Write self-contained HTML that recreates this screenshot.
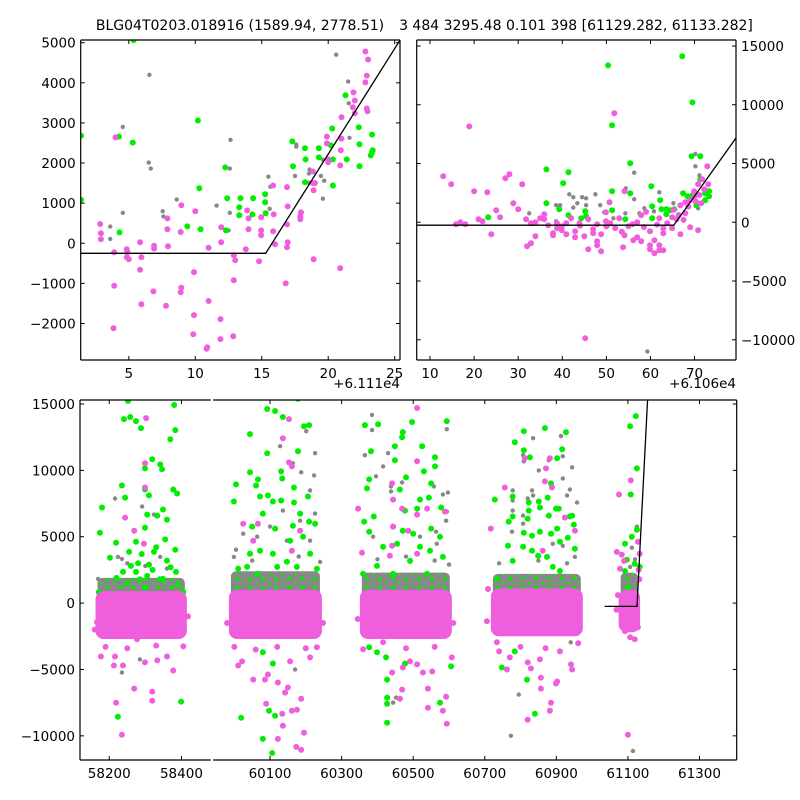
<!DOCTYPE html>
<html><head><meta charset="utf-8"><style>
html,body{margin:0;padding:0;background:#fff}
svg{display:block;font-family:"DejaVu Sans","Liberation Sans",sans-serif}
</style></head><body>
<svg id="fig" width="800" height="800" viewBox="0 0 800 800" xmlns="http://www.w3.org/2000/svg">
<defs>
<pattern id="gg" width="13" height="9" patternUnits="userSpaceOnUse">
<rect width="13" height="9" fill="#888"/>
<circle cx="3" cy="2.5" r="1.9" fill="#00ee00"/>
<circle cx="9.5" cy="7" r="1.3" fill="#22dd22"/>
</pattern>
</defs>
<rect width="800" height="800" fill="#fff"/>
<text x="240" y="30" font-size="14" text-anchor="middle">BLG04T0203.018916 (1589.94, 2778.51)</text>
<text x="576" y="30" font-size="14" text-anchor="middle">3 484 3295.48 0.101 398 [61129.282, 61133.282]</text>
<text x="400" y="388" font-size="13.5" text-anchor="end">+6.111e4</text>
<text x="736" y="388" font-size="13.5" text-anchor="end">+6.106e4</text>
</svg>
<script>
// ---------- DATA ----------
const modelT=[61035,61125.3,61160];
const modelF=[-250,-250,18000];

const tlPink=[[2.85,480],[2.9,250],[2.9,100],[3.9,-225],[3.9,-1060],[3.85,-2120],[4.0,2640],[4.85,-150],[4.9,-225],[4.85,-350],[5,-400],[5.85,25],[5.95,-350],[5.85,-660],[5.95,-1520],[6.9,-60],[6.9,-130],[6.85,-1200],[7.8,-1560],[7.9,620],[7.9,350],[7.95,-75],[8.95,950],[8.9,280],[8.95,-1110],[8.9,-1220],[10,800],[9.9,-720],[9.9,-1790],[9.85,-2270],[11,-110],[11,-1440],[10.85,-2630],[10.9,-2590],[11.95,400],[11.95,25],[11.9,-1890],[11.9,-2390],[12.9,-300],[13,-420],[12.9,-920],[12.85,-2320],[13.9,820],[14,620],[14,350],[13.8,-150],[14.95,650],[14.95,320],[14.95,200],[14.8,-450],[15.85,1440],[15.9,720],[15.85,300],[16,-25],[16.9,1400],[16.95,920],[16.9,470],[16.95,25],[16.9,-100],[16.8,-1000],[17.95,770],[17.9,670],[17.9,600],[18.85,1790],[18.85,1500],[19,1500],[18.9,1320],[18.9,-400],[19.9,2660],[19.9,2490],[20,2090],[20,2020],[21,3140],[21,2610],[20.95,2320],[20.9,1940],[20.9,-620],[21.9,3760],[22,3560],[21.85,3390],[22,3240],[22.8,4780],[23,4580],[22.9,4180],[22.8,4010],[22.9,3360],[22.95,3290]];
const tlGreen=[[5.35,5060],[1.4,2680],[1.4,1080],[4.25,2660],[5.3,2510],[4.3,270],[9.4,420],[10.2,3060],[10.3,1370],[10.4,350],[12.25,1890],[12.4,1120],[12.3,320],[13.4,1120],[13.3,900],[13.3,700],[14.35,1120],[14.3,720],[15.25,1220],[15.25,1020],[15.3,750],[17.3,2540],[17.35,1920],[18.25,2370],[18.3,2090],[18.25,1520],[19.3,2370],[19.3,2140],[20.3,2860],[20.2,2440],[20.35,2090],[20.35,1440],[21.3,3690],[21.4,2090],[22.3,2890],[22.35,2470],[22.35,1920],[23.3,2710],[23.35,2320],[23.3,2270],[23.2,2190]];
const tlGray=[[3.6,415],[3.6,110],[4.55,2900],[4.55,760],[6.55,4200],[6.5,2010],[6.65,1860],[7.55,800],[7.6,670],[8.6,1090],[11.6,940],[12.65,2580],[12.6,1860],[12.6,760],[12.5,320],[15.5,1660],[15.65,1410],[15.6,860],[17.6,2460],[17.6,2410],[17.5,1680],[18.6,1840],[18.55,1740],[18.55,1510],[19.6,2080],[19.45,1680],[19.7,1560],[19.6,1110],[20.6,4700],[21.5,4030],[21.55,3490],[21.6,2630]];

const trPink=[[13,3910],[14.8,3230],[18.9,8160],[15.9,-170],[16.9,0],[18,-170],[20,2640],[21,255],[21.9,85],[23,2550],[23.9,-1020],[25,1020],[25.9,425],[27.1,3740],[28,4080],[28.9,1620],[30,1100],[30.9,3230],[31.8,255],[32,-2040],[32.9,-1790],[32.9,-85],[33.9,0],[33.9,-1190],[35,340],[35.9,680],[35.9,255],[36.8,-255],[37.9,-935],[37.9,-1100],[38.8,-510],[38.8,-85],[39.9,-680],[39.9,-340],[40.9,-1020],[40.9,-85],[42,340],[42.9,-1275],[42.9,-765],[43.9,-85],[45,-1190],[45.9,255],[45.9,-2300],[47,-600],[47,-935],[47.9,-170],[47.9,-1620],[47.9,-1960],[48.8,-2470],[48.8,-1020],[49.9,850],[49.9,85],[50.9,-85],[50.7,1700],[51.8,9270],[52.9,340],[53.8,-2130],[54.1,2640],[54.1,-1100],[55,-340],[55.9,-170],[56.1,-1530],[57,0],[57,-1275],[57.9,-1620],[57.9,595],[59,880],[59.9,-2300],[59.9,-1960],[59.9,-765],[60.9,-2640],[60.9,-1530],[62,-2380],[62,-1960],[62,340],[62.9,-935],[62.9,-510],[62.9,-2380],[63.8,-85],[64.9,-510],[64.9,425],[65.9,255],[66.8,1450],[66.8,-1020],[67.9,765],[67.9,1700],[69,1870],[69,-425],[69.9,2640],[69.9,2130],[70.8,-680],[70.8,3230],[71.7,3660],[72.2,2800],[72.9,4760],[73.1,3230],[71.5,1620],[71.1,2320],[45.2,-9870],[67.5,200],[66.4,620],[65.2,1050],[68.6,1330],[70.3,1760],[44,-300],[52,-500],[58.5,-400],[61.5,-200],[53.5,-800],[50,-350]];
const trGreen=[[23.2,425],[36.4,4500],[36.4,1620],[39.3,1100],[40.2,3320],[41.4,4250],[41.4,595],[44.3,340],[45.2,935],[45.4,510],[50.4,13350],[51.3,8250],[51.3,2640],[51.3,1020],[54.3,255],[55.4,5020],[55.4,2470],[60.2,3060],[60.4,1360],[60.4,340],[62.2,1870],[62.5,1100],[63.6,1100],[63.6,680],[64.5,1020],[65.4,1100],[67.2,14120],[67.4,2470],[68.4,2210],[69.3,5610],[69.5,10200],[69.5,2300],[70.4,1450],[71.3,5610],[71.3,3660],[72.2,2800],[72.4,1870],[72.4,2470],[73.3,2640],[73.3,2210]];
const trGray=[[32.5,765],[38.6,1450],[39.5,1450],[38.6,85],[41.6,2380],[42.5,2130],[42.5,1250],[43.4,1620],[44.5,2130],[45.4,2040],[45.4,1450],[47.5,2380],[48.6,1450],[49.5,850],[51.6,340],[54.4,2890],[54.3,765],[56.3,4220],[56.3,1960],[57.5,765],[58.6,1190],[59.3,-11000],[60.8,935],[62,2550],[62,1870],[65.2,1620],[67.4,2470],[70.2,5810],[70.2,4760],[71.1,4000],[70.8,1190]];

// bottom cluster core bands
const coreStart=[58162,59985,60351,60717,61074];
const coreEnd=[58415,60245,60608,60974,61134];
const pinkLo=[-2700,-2700,-2700,-2500,-2200];
const pinkHi=[900,1000,1000,1100,1000];
const grayLo=[0,0,0,0,200];
const grayHi=[1900,2400,2300,2200,2300];

const btGreen=[[58252,15230],[58241,13860],[58258,14020],[58274,13710],[58288,13180],[58180,7200],[58174,5300],[58235,8860],[58244,7950],[58219,4550],[58202,3410],[58319,10830],[58341,10450],[58346,10080],[58299,10150],[58299,8560],[58310,8110],[58305,6670],[58299,5680],[58333,6590],[58349,7050],[58380,14920],[58383,13030],[58369,12350],[58377,8560],[58388,8260],[58383,4020],[58360,6290],[58324,3860],[58274,4620],[58255,3860],[58399,-7420],[58224,-8560],[58305,2050],[58274,2350],[58238,2350],[58171,830],[58405,830],[58385,2350],[58349,1820],[58280,3000],[58320,2500],[58360,3200],[58250,1500],[58300,1200],[58340,1800],[58390,1400],[58220,1900],[58260,2800],[58330,4200],[58290,3700],[58370,2700],[58310,2900],[58355,4800],[58285,1800],
[60092,14620],[60114,14470],[60136,14020],[60044,12730],[60178,15380],[60195,13330],[60209,13410],[60092,11290],[60178,11440],[60044,9850],[60131,9920],[60005,8940],[59999,7650],[60066,9320],[60061,8860],[60134,9390],[60167,8710],[60072,8030],[60108,7650],[60131,7730],[60094,8110],[60206,8030],[60167,7580],[60209,6140],[60226,5980],[60050,5760],[60080,6740],[60114,5610],[60156,4700],[60192,5000],[60044,3710],[60072,3940],[60108,3710],[60212,3710],[60011,2580],[60231,2580],[60019,-8640],[60097,-8110],[60114,-8480],[60080,-10230],[60106,-11290],[60108,-4550],[60080,-3710],[60036,2730],[60120,2730],[60175,2730],[60147,3110],[60064,2200],[60184,6740],[60164,5830],
[60365,13410],[60402,13480],[60382,11440],[60497,13640],[60471,12880],[60469,12500],[60449,11820],[60525,11820],[60561,10980],[60594,13710],[60449,10760],[60530,9920],[60561,10300],[60377,9320],[60480,9470],[60371,8640],[60463,8560],[60550,9020],[60519,7800],[60544,7950],[60477,6970],[60511,7120],[60578,7200],[60363,6140],[60390,6520],[60377,5380],[60444,5760],[60471,5450],[60500,5230],[60550,5610],[60575,5000],[60416,4240],[60455,4470],[60519,4240],[60547,3940],[60583,3480],[60399,2800],[60491,3180],[60424,-4090],[60427,-5760],[60427,-7120],[60427,-7580],[60427,-9010],[60575,-7500],[60606,-4770],[60377,-3330],[60399,-3710],[60477,-4550],[60360,2200],[60444,2200],[60539,2200],
[60809,12950],[60868,13180],[60927,12880],[60784,12120],[60809,11520],[60826,10980],[60902,10910],[60916,11590],[60885,9020],[60728,7800],[60778,8030],[60876,7950],[60823,7580],[60851,7650],[60854,7200],[60823,6970],[60899,7120],[60907,7120],[60778,6520],[60767,6140],[60820,6360],[60879,6590],[60938,6520],[60944,6590],[60949,5910],[60809,5300],[60832,5080],[60854,5380],[60885,5230],[60902,5610],[60932,4920],[60910,4620],[60765,4320],[60807,4240],[60832,3940],[60849,3560],[60874,3480],[60952,4090],[60778,3180],[60734,1820],[60890,2730],[60910,2420],[60748,-4850],[60784,-3640],[60818,-5760],[60840,-8330],
[61122,14090],[61106,13330],[61125,10150],[61108,8180],[61125,5530],[61111,5000],[61092,4470],[61097,3260],[61119,2950],[61133,2730],[61092,2420],[61100,1210]];
const btPink=[[58302,13940],[58299,10530],[58299,8710],[58244,6440],[58269,5450],[58296,4470],[58177,-4020],[58216,-4020],[58213,-4700],[58238,-4700],[58269,-6440],[58319,-6670],[58319,-7350],[58219,-7500],[58235,-9920],[58377,-5080],[58299,-4470],[58333,-4320],[58360,-4020],[58405,-3260],[58277,-2730],[58166,-1440],[58190,-3300],[58250,-3400],[58330,-3200],[58395,-2400],[58160,-2000],[58418,-1000],
[60153,13860],[60136,12420],[60153,10600],[60161,10300],[60022,-4390],[60011,-4700],[60053,-5760],[60086,-5760],[60094,-5380],[60122,-5980],[60150,-6360],[60142,-6740],[60089,-7580],[60134,-8330],[60136,-9240],[60161,-8110],[60175,-8030],[60187,-7200],[60122,-10230],[60195,-9770],[60173,-10830],[60187,-11060],[60025,5980],[60066,5980],[60053,4700],[60184,5450],[60161,3940],[60231,-3330],[60212,-4090],[60156,-4390],[59980,-1500],[60000,-3300],[60060,-3500],[60120,-3300],[60200,-3400],[60248,-1500],
[60511,14700],[60511,10680],[60441,9020],[60444,7800],[60469,7120],[60346,7120],[60539,7120],[60589,6890],[60511,6670],[60444,5760],[60486,5450],[60357,3790],[60435,3560],[60441,4320],[60511,3710],[60491,-4390],[60471,-4850],[60511,-4620],[60441,-5230],[60469,-6520],[60463,-7200],[60541,-7880],[60541,-6440],[60583,-8110],[60594,-9090],[60592,-7050],[60553,-5150],[60527,-5230],[60608,-4090],[60360,-3480],[60416,-2950],[60345,-1200],[60612,-1500],[60480,-3400],[60560,-3300],
[60756,8710],[60717,5610],[60812,10910],[60882,10910],[60871,10150],[60868,9170],[60888,8710],[60924,6440],[60952,5450],[60862,3940],[60709,1060],[60706,-1360],[60734,-2950],[60740,-3640],[60770,-4090],[60762,-5000],[60820,-4470],[60829,-4920],[60854,-4240],[60857,-5610],[60857,-6440],[60899,-6060],[60902,-5910],[60885,-7500],[60882,-8110],[60820,-8790],[60944,-5000],[60941,-4620],[60961,-3030],[60910,-3640],[60800,-3300],[60870,-3400],[60960,-2000],
[61108,9240],[61075,8180],[61069,3860],[61083,3640],[61089,3180],[61078,2580],[61128,4620],[61133,3710],[61100,-9920],[61086,-1820],[61092,-2120],[61106,-2580],[61119,-2730],[61083,-1060],[61128,-1820],[61068,-500],[61072,600],[61130,2500],[61132,1800]];
const btGray=[[58216,7880],[58291,7270],[58324,6670],[58235,3330],[58224,3480],[58169,1820],[58235,-5230],[58285,-4240],[58341,3480],[58388,1290],[58250,3000],[58300,2800],[58360,2600],
[60128,11820],[60201,12950],[60226,11290],[60223,9620],[60187,9850],[60212,8490],[60164,10530],[60226,6740],[60005,4020],[59999,3480],[60025,5230],[60064,5000],[60170,-5000],[60184,6210],[60136,6970],[60100,5760],[60147,4700],[60212,4700],[60025,2050],[60212,2200],[60050,3200],[60180,3500],[60240,3100],
[60385,14170],[60385,13030],[60365,11140],[60430,11290],[60416,10300],[60396,9550],[60438,8790],[60438,8410],[60469,9090],[60594,13100],[60594,6890],[60592,6210],[60597,8330],[60583,8180],[60558,8790],[60564,5380],[60452,-7120],[60444,-7500],[60388,5000],[60519,5000],[60566,4470],[60400,3300],[60480,3500],[60560,3200],[60600,2900],
[60835,12420],[60913,12580],[60918,11060],[60807,11140],[60809,10680],[60851,10000],[60879,10760],[60944,10230],[60778,8490],[60778,7730],[60832,8490],[60835,8110],[60820,7880],[60918,9390],[60938,8560],[60930,8110],[60958,7580],[60778,6970],[60807,6590],[60776,5380],[60807,5980],[60890,4470],[60918,4320],[60952,3480],[60795,-6890],[60773,-10000],[60940,-2950],[60740,3000],[60850,3200],[60930,3000],
[61125,5760],[61111,4170],[61106,2730],[61114,-11140],[61114,1670],[61120,3300]];

// tick values
const tlXTicks=[5,10,15,20,25];
const tlYTicks=[-2000,-1000,0,1000,2000,3000,4000,5000];
const trXTicks=[10,20,30,40,50,60,70];
const trYTicks=[-10000,-5000,0,5000,10000,15000];
const btYTicks=[-10000,-5000,0,5000,10000,15000];
const btLeftXTicks=[58200,58400];
const btRightXTicks=[60100,60300,60500,60700,60900,61100,61300];

// ---------- DRAWING ----------
const NS='http://www.w3.org/2000/svg';
const svg=document.getElementById('fig');
const FS=13.5;
function el(tag,attrs,parent){const e=document.createElementNS(NS,tag);for(const k in attrs)e.setAttribute(k,attrs[k]);(parent||svg).appendChild(e);return e;}
function lin(d0,d1,r0,r1){return v=>r0+(v-d0)/(d1-d0)*(r1-r0);}
const PINK='#ef5fdd',GREEN='#00ee00',GRAY='#888888';
let clipN=0;
function panel(name,box,xd,yd){
  const sx=lin(xd[0],xd[1],box.x0,box.x1), sy=lin(yd[0],yd[1],box.y1,box.y0);
  const id='clip'+(clipN++);
  const cp=el('clipPath',{id:id});el('rect',{x:box.x0,y:box.y0,width:box.x1-box.x0,height:box.y1-box.y0},cp);
  const g=el('g',{'clip-path':'url(#'+id+')'});
  
  
  return {sx,sy,g,box};
}
function dots(p,arr,color,r,name){
  const g=el('g',{fill:color},p.g);
  
  
  arr.forEach(d=>{const c=el('circle',{cx:p.sx(d[0]).toFixed(1),cy:p.sy(d[1]).toFixed(1),r:r},g);
    
    });
}
function modelLine(p,off,name){
  const pts=modelT.map((t,i)=>p.sx(t-off).toFixed(1)+','+p.sy(modelF[i]).toFixed(1)).join(' ');
  const l=el('polyline',{points:pts,fill:'none',stroke:'#000','stroke-width':1.3},p.g);
  
  
}
function spine(x1,y1,x2,y2,name){const l=el('line',{x1,y1,x2,y2,stroke:'#000','stroke-width':1.2});
  
  }
function xticks(p,vals,label,name){vals.forEach(v=>{const x=p.sx(v);
  el('line',{x1:x,y1:p.box.y1,x2:x,y2:p.box.y1-4,stroke:'#000'});
  el('line',{x1:x,y1:p.box.y0,x2:x,y2:p.box.y0+4,stroke:'#000'});
  if(label){const t=el('text',{x:x,y:p.box.y1+18,'font-size':FS,'text-anchor':'middle'});t.textContent=String(v);
    
    }});}
function yticks(p,vals,side,labelSide,name){vals.forEach(v=>{const y=p.sy(v);
  if(side!=='right')el('line',{x1:p.box.x0,y1:y,x2:p.box.x0+4,y2:y,stroke:'#000'});
  if(side!=='left')el('line',{x1:p.box.x1,y1:y,x2:p.box.x1-4,y2:y,stroke:'#000'});
  if(labelSide){const s=(v<0?'\u2212'+Math.abs(v):String(v));
    const t=el('text',labelSide==='left'?{x:p.box.x0-5,y:y+5,'font-size':FS,'text-anchor':'end'}:{x:p.box.x1+5,y:y+5,'font-size':FS,'text-anchor':'start'});
    t.textContent=s;
    
    }});}

// top-left
const tl=panel('top-left',{x0:80.7,x1:400,y0:40,y1:360},[1.38,25.4],[-2910,5067]);
dots(tl,tlGray,GRAY,2.2,'tl-gray');dots(tl,tlGreen,GREEN,3,'tl-green');dots(tl,tlPink,PINK,3,'tl-pink');
modelLine(tl,61110,'tl-model-line');
spine(80.7,40,400,40,'tl-top-spine');spine(80.7,360,400,360,'tl-bottom-spine');spine(80.7,40,80.7,360,'tl-left-spine');spine(400,40,400,360,'tl-right-spine');
xticks(tl,tlXTicks,true,'tl-x');yticks(tl,tlYTicks,'both','left','tl-y');

// top-right
const tr=panel('top-right',{x0:416.7,x1:736,y0:40,y1:360},[6.98,79.4],[-11720,15510]);
dots(tr,trGray,GRAY,2.2,'tr-gray');dots(tr,trGreen,GREEN,3,'tr-green');dots(tr,trPink,PINK,3,'tr-pink');
modelLine(tr,61060,'tr-model-line');
spine(416.7,40,736,40,'tr-top-spine');spine(416.7,360,736,360,'tr-bottom-spine');spine(416.7,40,416.7,360,'tr-left-spine');spine(736,40,736,360,'tr-right-spine');
xticks(tr,trXTicks,true,'tr-x');yticks(tr,trYTicks,'both','right','tr-y');

// bottom split
const yd=[-11820,15300];
const bl=panel('bottom-left',{x0:80,x1:210.7,y0:400,y1:760},[58119,58481],yd);
const br=panel('bottom-right',{x0:213,x1:736.7,y0:400,y1:760},[59940.6,61404],yd);
function cores(p,name){
  coreStart.forEach((s,i)=>{
    const x0=p.sx(s),x1=p.sx(coreEnd[i]);
    const g=el('rect',{x:x0+2,y:p.sy(grayHi[i]),width:x1-x0-4,height:p.sy(grayLo[i])-p.sy(grayHi[i]),fill:'url(#gg)',rx:5},p.g);
    
    
  });
}
function pinkCores(p,name){
  coreStart.forEach((s,i)=>{
    const x0=p.sx(s),x1=p.sx(coreEnd[i]);
    const r=el('rect',{x:x0,y:p.sy(pinkHi[i]),width:x1-x0,height:p.sy(pinkLo[i])-p.sy(pinkHi[i]),fill:PINK,rx:8},p.g);
    
    
  });
}
[[bl,'bl'],[br,'br']].forEach(([p,n])=>{
  cores(p,n);
  dots(p,btGray,GRAY,2.2,n+'-gray');
  dots(p,btGreen,GREEN,3,n+'-green');
  pinkCores(p,n);
  dots(p,btPink,PINK,3,n+'-pink');
});
modelLine(br,0,'bottom-model-line');
spine(80,400,210.7,400,'bl-top-spine');spine(80,760,210.7,760,'bl-bottom-spine');spine(80,400,80,760,'bl-left-spine');
spine(213,400,736.7,400,'br-top-spine');spine(213,760,736.7,760,'br-bottom-spine');spine(736.7,400,736.7,760,'br-right-spine');
xticks(bl,btLeftXTicks,true,'bl-x');xticks(br,btRightXTicks,true,'br-x');
yticks(bl,btYTicks,'left','left','bl-y');yticks(br,btYTicks,'right',null,'br-y');
</script>
</body></html>
